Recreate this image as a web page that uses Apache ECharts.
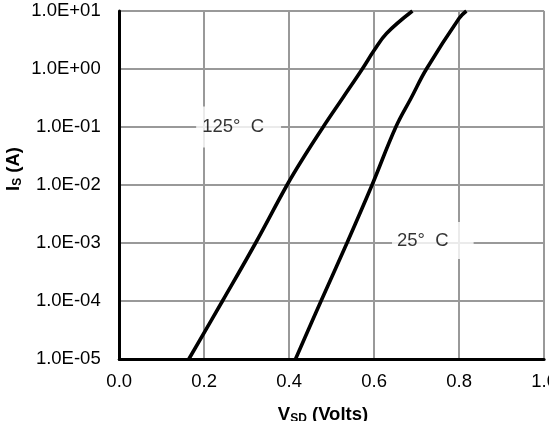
<!DOCTYPE html>
<html>
<head>
<meta charset="utf-8">
<script src="https://cdn.jsdelivr.net/npm/echarts@6/dist/echarts.min.js"></script>
<style>
html,body{margin:0;padding:0;background:#fff;overflow:hidden;width:549px;height:421px;}
#chart{width:560px;height:421px;}
</style>
</head>
<body>
<div id="chart"></div>
<script>
// Data
const vsd125 = [0.164, 0.243, 0.321, 0.395, 0.436, 0.480, 0.526, 0.572, 0.600, 0.629, 0.690];
const is125  = [1e-5, 1e-4, 1e-3, 1e-2, 0.0316, 0.1, 0.316, 1, 2.1, 4.1, 10];
const vsd25  = [0.415, 0.475, 0.536, 0.595, 0.651, 0.687, 0.723, 0.800, 0.817];
const is25   = [1e-5, 1e-4, 1e-3, 1e-2, 0.1, 0.316, 1, 7.5, 10];
const xTickLabels = ['0.0', '0.2', '0.4', '0.6', '0.8', '1.0'];
const yTickLabels = ['1.0E-05', '1.0E-04', '1.0E-03', '1.0E-02', '1.0E-01', '1.0E+00', '1.0E+01'];
const curveLabels = ['125°  C', '25°  C'];
const labelPos = [[0.281, 0.1], [0.738, 1.1e-3]];

const FONT = "'Liberation Sans', Arial, sans-serif";
const FS = 18.5;
const chart = echarts.init(document.getElementById('chart'), null, {renderer: 'canvas'});

function zip(xs, ys) { return xs.map((x, i) => [x, ys[i]]); }

const option = {
  animation: false,
  backgroundColor: '#fff',
  grid: {left: 119.2, right: 5.3, top: 11, bottom: 62, containLabel: false},
  xAxis: {
    type: 'value', min: 0, max: 1, interval: 0.2,
    axisLine: {show: true, lineStyle: {color: '#000', width: 3}},
    axisTick: {show: false},
    splitLine: {show: true, lineStyle: {color: '#999', width: 2}},
    axisLabel: {
      margin: 13, color: '#000', fontFamily: FONT, fontSize: FS,
      showMinLabel: true, showMaxLabel: true,
      formatter: v => xTickLabels[Math.round(v / 0.2)]
    }
  },
  yAxis: {
    type: 'log', logBase: 10, min: 1e-5, max: 10, splitNumber: 6,
    axisLine: {show: true, onZero: false, lineStyle: {color: '#000', width: 3}},
    axisTick: {show: false},
    minorTick: {show: false},
    splitLine: {show: true, lineStyle: {color: '#999', width: 2}},
    axisLabel: {
      margin: 18.5, color: '#000', fontFamily: FONT, fontSize: FS,
      formatter: v => yTickLabels[Math.round(Math.log10(v)) + 5]
    }
  },
  series: [
    {type: 'line', data: zip(vsd125, is125), smooth: 0.4, showSymbol: false,
     lineStyle: {color: '#000', width: 3.6}, z: 3},
    {type: 'line', data: zip(vsd25, is25), smooth: 0.4, showSymbol: false,
     lineStyle: {color: '#000', width: 3.6}, z: 3},
    {type: 'scatter', symbolSize: 0, z: 4, silent: true,
     data: [{value: labelPos[0], label: {formatter: curveLabels[0], padding: [11, 17, 11, 6]}},
            {value: labelPos[1], label: {formatter: curveLabels[1], padding: [9, 25, 9, 5]}}],
     label: {show: true, position: 'inside', color: '#000', fontFamily: FONT, fontSize: FS,
             backgroundColor: '#fff'}}
  ],
  graphic: [
    {type: 'text', x: 13, y: 169, rotation: Math.PI / 2,
     style: {text: '{m|I}{s|S}{m| (A)}', align: 'center', verticalAlign: 'middle',
             textAlign: 'center', textVerticalAlign: 'middle',
             rich: {m: {fontFamily: FONT, fontWeight: 'bold', fontSize: FS, lineHeight: 21, fill: '#000', verticalAlign: 'bottom'},
                    s: {fontFamily: FONT, fontWeight: 'bold', fontSize: 12, lineHeight: 13, fill: '#000', verticalAlign: 'bottom'}}}},
    {type: 'text', x: 323, y: 414,
     style: {text: '{m|V}{s|SD}{m| (Volts)}', align: 'center', verticalAlign: 'middle',
             textAlign: 'center', textVerticalAlign: 'middle',
             rich: {m: {fontFamily: FONT, fontWeight: 'bold', fontSize: FS, lineHeight: 21, fill: '#000', verticalAlign: 'bottom'},
                    s: {fontFamily: FONT, fontWeight: 'bold', fontSize: 12, lineHeight: 13, fill: '#000', verticalAlign: 'bottom'}}}}
  ]
};
chart.setOption(option);
</script>
</body>
</html>
